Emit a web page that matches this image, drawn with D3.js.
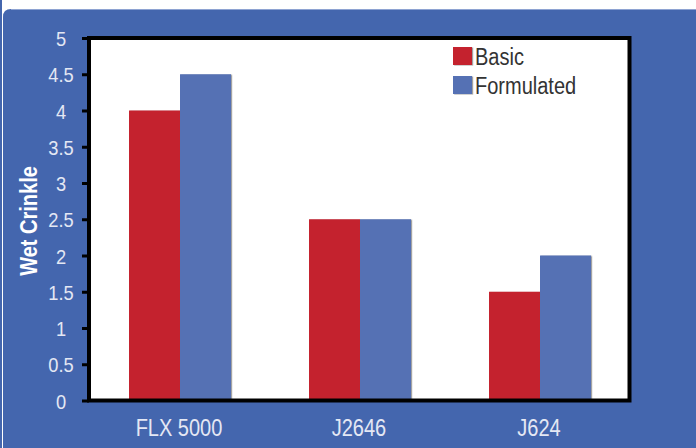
<!DOCTYPE html>
<html>
<head>
<meta charset="utf-8">
<script src="https://cdn.jsdelivr.net/npm/d3@7/dist/d3.min.js"></script>
<style>
  html, body { margin: 0; padding: 0; background: #ffffff; }
  svg { display: block; }
</style>
</head>
<body>
<div id="chart"></div>
<script>
// Wet crinkle rating per yarn, basic vs. formulated finish
const categories = ["FLX 5000", "J2646", "J624"];
const seriesNames = ["Basic", "Formulated"];
const basicValues = [4, 2.5, 1.5];
const formulatedValues = [4.5, 2.5, 2];
const yTicks = [0, 0.5, 1, 1.5, 2, 2.5, 3, 3.5, 4, 4.5, 5];
const yTitle = "Wet Crinkle";

const seriesValues = [basicValues, formulatedValues];
const colors = ["#c4202f", "#5571b4"];

const W = 696, H = 448;
const font = "'Liberation Sans', Arial, sans-serif";
const narrow = 0.87; // horizontal squeeze for a condensed face
const panelBlue = "#4466ae";
const labelColor = "#e4e8f4";

const svg = d3.select("#chart").append("svg")
  .attr("width", W).attr("height", H);

const defs = svg.append("defs");
const shadow = defs.append("filter").attr("id", "barShadow")
  .attr("x", "-10%").attr("y", "-10%").attr("width", "130%").attr("height", "130%");
shadow.append("feDropShadow").attr("dx", 1.2).attr("dy", 0.5)
  .attr("stdDeviation", 0.6).attr("flood-color", "#555").attr("flood-opacity", 0.55);

// Background: thin left strip, white rule, then the panel with a rounded top-left corner
svg.append("rect").attr("x", 0).attr("y", 0).attr("width", 2).attr("height", H).attr("fill", panelBlue);
const r = 8, px = 3, py = 9;
svg.append("path")
  .attr("d", `M${px},${H} L${px},${py + r} Q${px},${py} ${px + r},${py} L${W},${py} L${W},${H} Z`)
  .attr("fill", panelBlue);
svg.append("line").attr("x1", px + r).attr("x2", W).attr("y1", py + 0.5).attr("y2", py + 0.5)
  .attr("stroke", "#8ea3d2").attr("stroke-width", 1);

// Plot frame
const plot = { left: 89, right: 629.5, top: 38, bottom: 400.5 };

const y = d3.scaleLinear().domain([0, 5]).range([plot.bottom, plot.top]);
const x0 = d3.scaleBand().domain(categories).range([plot.left + 1, plot.right + 0.5])
  .paddingInner(0).paddingOuter(0);
const x1 = d3.scaleBand().domain(seriesNames).range([0, x0.bandwidth()])
  .paddingInner(0).paddingOuter(0.765);

svg.append("rect")
  .attr("x", plot.left).attr("y", plot.top)
  .attr("width", plot.right - plot.left).attr("height", plot.bottom - plot.top)
  .attr("fill", "#ffffff");

// Bars
const groups = svg.append("g").selectAll("g")
  .data(categories)
  .join("g")
  .attr("transform", d => `translate(${x0(d)},0)`);

groups.selectAll("rect")
  .data((d, i) => seriesNames.map((s, j) => ({ s, j, v: seriesValues[j][i] })))
  .join("rect")
  .attr("x", d => x1(d.s))
  .attr("width", x1.bandwidth())
  .attr("y", d => y(d.v))
  .attr("height", d => y(0) - y(d.v))
  .attr("fill", d => colors[d.j])
  .attr("filter", "url(#barShadow)");

// Frame border drawn over the bars
svg.append("rect")
  .attr("x", plot.left).attr("y", plot.top)
  .attr("width", plot.right - plot.left).attr("height", plot.bottom - plot.top)
  .attr("fill", "none").attr("stroke", "#000").attr("stroke-width", 4);

// Y axis ticks and labels
const yAxis = svg.append("g")
  .attr("transform", `translate(${plot.left},0)`)
  .call(d3.axisLeft(y).tickValues(yTicks).tickSize(7).tickPadding(0)
    .tickFormat(d => String(d)));
yAxis.select(".domain").remove();
yAxis.selectAll(".tick line").attr("stroke", "#000").attr("stroke-width", 3);
yAxis.selectAll(".tick text")
  .attr("x", 0)
  .attr("transform", `translate(${61 - plot.left},0) scale(${narrow},1)`)
  .attr("dy", "0.36em")
  .attr("text-anchor", "middle")
  .attr("fill", labelColor)
  .style("font-family", font)
  .style("font-size", "21px");

// X category labels
svg.append("g").selectAll("text")
  .data(categories)
  .join("text")
  .attr("transform", d => `translate(${x0(d) + x0.bandwidth() / 2 - 1},436) scale(${narrow},1)`)
  .attr("text-anchor", "middle")
  .attr("fill", labelColor)
  .style("font-family", font)
  .style("font-size", "23px")
  .text(d => d);

// Y title
svg.append("text")
  .attr("transform", `translate(37,221) rotate(-90) scale(${narrow},1)`)
  .attr("text-anchor", "middle")
  .attr("fill", "#ffffff")
  .style("font-family", font)
  .style("font-weight", "bold")
  .style("font-size", "23px")
  .text(yTitle);

// Legend
const legend = svg.append("g").selectAll("g")
  .data(seriesNames)
  .join("g")
  .attr("transform", (d, i) => `translate(453,${47 + i * 29})`);
legend.append("rect")
  .attr("width", 19).attr("height", 18)
  .attr("fill", (d, i) => colors[i])
  .attr("filter", "url(#barShadow)");
legend.append("text")
  .attr("transform", `translate(22,18) scale(${narrow},1)`)
  .attr("fill", "#333333")
  .style("font-family", font)
  .style("font-size", "23px")
  .text(d => d);
</script>
</body>
</html>
